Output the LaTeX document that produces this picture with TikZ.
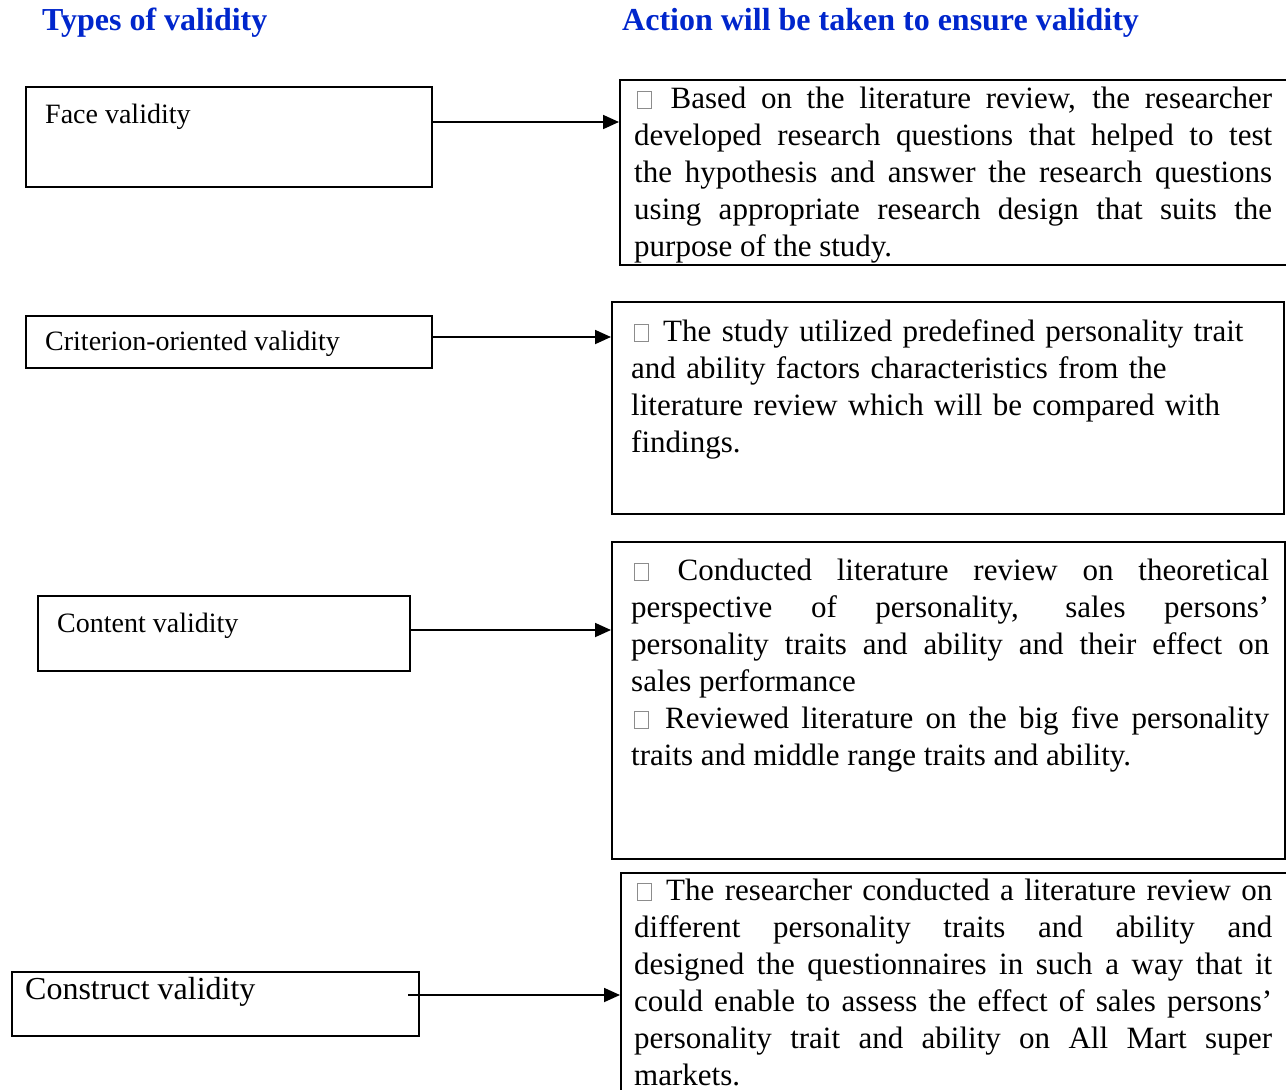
\documentclass[tikz,border=0pt]{standalone}
\usepackage{fontspec}
\setmainfont{Liberation Serif}
\usetikzlibrary{arrows.meta,positioning}
\definecolor{headblue}{RGB}{0,38,204}
\newcommand{\sqmark}{\hspace*{3pt}\tikz[baseline=0pt]\draw[black!45,line width=0.7pt] (0pt,0pt) rectangle (14pt,17pt);\hspace{4pt}}
\tikzset{
	box/.style={draw,line width=1.8pt,anchor=north west,inner sep=0pt},
	headtext/.style={anchor=base west,inner sep=0pt,text=headblue,font=\fontsize{32}{36}\selectfont\bfseries},
	typetext/.style={anchor=base west,inner sep=0pt,font=\fontsize{28}{34}\selectfont},
	acttext/.style={anchor=north west,inner sep=0pt,text width=638pt,align=justify,font=\fontsize{31}{37}\selectfont},
	link/.style={line width=1.8pt,-{Triangle[length=16pt,width=14pt]}}
}
\begin{document}
\begin{tikzpicture}[x=1pt,y=-1pt]
	\useasboundingbox (0,0) rectangle (1286,1090);
	\node[headtext] (head1) at (42,30) {Types of validity};
	\node[headtext] (head2) at (622,30) {Action will be taken to ensure validity};

	\node[box,minimum width=406pt,minimum height=100pt] (face) at (25,86) {};
	\node[box,minimum width=406pt,minimum height=52pt] (crit) at (25,315) {};
	\node[box,minimum width=372pt,minimum height=75pt] (content) at (37,595) {};
	\node[box,minimum width=407pt,minimum height=64pt] (construct) at (11,971) {};
	\node[typetext] (facet) at (45,123) {Face validity};
	\node[typetext] (critt) at (45,350) {Criterion-oriented validity};
	\node[typetext] (contentt) at (57,632) {Content validity};
	\node[typetext,font=\fontsize{32}{36}\selectfont] (constructt) at (25,999) {Construct validity};

	\node[box,minimum width=675pt,minimum height=185pt] (act1) at (619,79) {};
	\node[box,minimum width=672pt,minimum height=212pt] (act2) at (611,301) {};
	\node[box,minimum width=673pt,minimum height=317pt] (act3) at (611,541) {};
	\node[box,minimum width=675pt,minimum height=240pt] (act4) at (620,872) {};

	\node[acttext] (act1t) at (634,87) {\sqmark{} Based on the literature review, the researcher\linebreak
		developed research questions that helped to test\linebreak
		the hypothesis and answer the research questions\linebreak
		using appropriate research design that suits the\linebreak
		purpose of the study.};
	\node[acttext,align=left] (act2t) at (631,319) {\sqmark{} The study utilized predefined personality trait\\
		and ability factors characteristics from the\\
		literature review which will be compared with\\
		findings.};
	\node[acttext] (act3t) at (631,559) {\sqmark{} Conducted literature review on theoretical\linebreak
		perspective of personality, sales persons’\linebreak
		personality traits and ability and their effect on\linebreak
		sales performance\\
		\sqmark{} Reviewed literature on the big five personality\linebreak
		traits and middle range traits and ability.};
	\node[acttext] (act4t) at (634,879) {\sqmark{} The researcher conducted a literature review on\linebreak
		different personality traits and ability and\linebreak
		designed the questionnaires in such a way that it\linebreak
		could enable to assess the effect of sales persons’\linebreak
		personality trait and ability on All Mart super\linebreak
		markets.};

	\coordinate (from4) at (408,995);
	\draw[link] (face.east |- 0,122) -- (act1.west |- 0,122);
	\draw[link] (crit.east |- 0,337) -- (act2.west |- 0,337);
	\draw[link] (content.east |- 0,630) -- (act3.west |- 0,630);
	\draw[link] (from4) -- (act4.west |- from4);
\end{tikzpicture}
\end{document}
